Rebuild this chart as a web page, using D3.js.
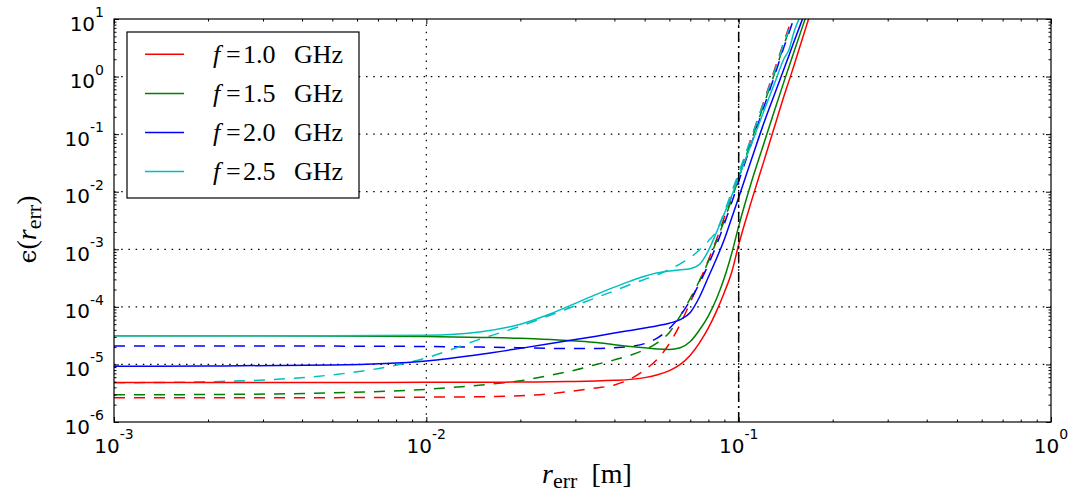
<!DOCTYPE html>
<html>
<head>
<meta charset="utf-8">
<script src="https://cdn.jsdelivr.net/npm/d3@7"></script>
<style>
body { margin: 0; background: #fff; }
</style>
</head>
<body>
<svg id="chart"></svg>
<script>
// sample positions r_err [m]
var rErr = [0.001, 0.002, 0.005, 0.01, 0.015, 0.02, 0.025, 0.03, 0.035, 0.04, 0.045, 0.05, 0.055, 0.06, 0.065,
            0.07, 0.075, 0.08, 0.085, 0.09, 0.095, 0.1, 0.11, 0.12, 0.13, 0.14, 0.145, 0.15, 0.16, 0.17];

var labels = ["1.0", "1.5", "2.0", "2.5"];
var colors = ["#ff0000", "#008000", "#0000ff", "#00bfbf"];

// solid curves
var solid10 = [4.85e-6, 4.85e-6, 4.85e-6, 4.9e-6, 4.9e-6, 4.95e-6, 5.0e-6, 5.05e-6, 5.15e-6, 5.3e-6, 5.5e-6, 5.9e-6, 6.6e-6, 7.8e-6, 1.0e-5,
               1.45e-5, 2.4e-5, 4.3e-5, 8.5e-5, 1.8e-4, 4.0e-4, 1.2e-3, 7e-3, 3.2e-2, 0.13, 0.48, 0.85, 1.5, 4.6, 13];
var solid15 = [3.15e-5, 3.15e-5, 3.12e-5, 3.05e-5, 2.95e-5, 2.85e-5, 2.7e-5, 2.55e-5, 2.4e-5, 2.2e-5, 2.05e-5, 1.95e-5, 1.85e-5, 1.82e-5, 1.95e-5,
               2.5e-5, 4.0e-5, 7.0e-5, 1.4e-4, 3.2e-4, 8.5e-4, 2.5e-3, 1.5e-2, 6.5e-2, 0.25, 0.85, 1.5, 2.6, 7.3, 19];
var solid20 = [9.3e-6, 9.4e-6, 9.8e-6, 1.15e-5, 1.5e-5, 1.9e-5, 2.3e-5, 2.7e-5, 3.1e-5, 3.5e-5, 3.9e-5, 4.3e-5, 4.7e-5, 5.2e-5, 6.0e-5,
               8.0e-5, 1.5e-4, 3.3e-4, 7.0e-4, 1.5e-3, 3.5e-3, 7.9e-3, 3.7e-2, 0.148, 0.48, 1.41, 2.35, 3.9, 9.9, 24];
var solid25 = [3.15e-5, 3.15e-5, 3.15e-5, 3.2e-5, 3.7e-5, 5.0e-5, 7.6e-5, 1.15e-4, 1.65e-4, 2.2e-4, 2.8e-4, 3.4e-4, 3.9e-4, 4.2e-4, 4.4e-4,
               4.6e-4, 5.5e-4, 9.5e-4, 2.0e-3, 4.2e-3, 8.5e-3, 1.8e-2, 6.9e-2, 0.24, 0.74, 2.1, 2.95, 5.7, 14, 33];

// dashed curves
var dashed10 = [2.63e-6, 2.63e-6, 2.65e-6, 2.7e-6, 2.75e-6, 2.85e-6, 3.1e-6, 3.5e-6, 3.9e-6, 4.4e-6, 5.6e-6, 8e-6, 1.25e-5, 2.3e-5, 5e-5,
                1.2e-4, 2.8e-4, 6.5e-4, 1.5e-3, 3.6e-3, 8.5e-3, 1.9e-2, 8.9e-2, 0.35, 1.28, 4.2, 7.3, null, null, null];
var dashed15 = [2.96e-6, 3.0e-6, 3.2e-6, 3.7e-6, 4.4e-6, 5.2e-6, 6.5e-6, 8.0e-6, 1.0e-5, 1.2e-5, 1.45e-5, 1.8e-5, 2.4e-5, 3.6e-5, 7e-5,
                1.4e-4, 2.9e-4, 6.2e-4, 1.4e-3, 3.2e-3, 7.5e-3, 1.7e-2, 8e-2, 0.31, 1.1, 3.7, 6.5, null, null, null];
var dashed20 = [2.1e-5, 2.1e-5, 2.08e-5, 2.05e-5, 2.0e-5, 1.95e-5, 1.9e-5, 1.9e-5, 1.9e-5, 1.95e-5, 2.05e-5, 2.3e-5, 2.9e-5, 4.2e-5, 7e-5,
                1.3e-4, 2.6e-4, 5.5e-4, 1.2e-3, 2.8e-3, 6.5e-3, 1.5e-2, 7e-2, 0.28, 1.0, 3.4, 5.8, 10, null, null];
var dashed25 = [4.8e-6, 5.0e-6, 6.6e-6, 1.3e-5, 2.8e-5, 4.6e-5, 7.2e-5, 1.05e-4, 1.45e-4, 1.9e-4, 2.45e-4, 3.0e-4, 3.6e-4, 4.5e-4, 5.6e-4,
                7.2e-4, 9.8e-4, 1.4e-3, 2.1e-3, 4.5e-3, 1.0e-2, 2.1e-2, 9e-2, 0.34, 1.2, 4.0, 6.7, null, null, null];

var xTickExps = [-3, -2, -1, 0];
var yTickExps = [-6, -5, -4, -3, -2, -1, 0, 1];
var markerR = 0.1;

var width = 1075, height = 495;
var margin = {top: 19, right: 24, bottom: 73, left: 114};

var svg = d3.select("#chart")
    .attr("width", width)
    .attr("height", height);

var x = d3.scaleLog().domain([1e-3, 1]).range([margin.left, width - margin.right]);
var y = d3.scaleLog().domain([1e-6, 10]).range([height - margin.bottom, margin.top]);

var solids = [solid10, solid15, solid20, solid25];
var dashes = [dashed10, dashed15, dashed20, dashed25];

svg.append("defs").append("clipPath").attr("id", "plot-clip")
    .append("rect")
    .attr("x", x.range()[0]).attr("y", y.range()[1])
    .attr("width", x.range()[1] - x.range()[0])
    .attr("height", y.range()[0] - y.range()[1]);

// grid
var grid = svg.append("g").attr("class", "grid")
    .attr("stroke", "#000").attr("stroke-width", 1.2).attr("stroke-dasharray", "1.5,5.7");
yTickExps.slice(1, -1).forEach(function (e) {
    grid.append("line")
        .attr("x1", x.range()[0]).attr("x2", x.range()[1])
        .attr("y1", y(Math.pow(10, e))).attr("y2", y(Math.pow(10, e)));
});
xTickExps.slice(1, -1).forEach(function (e) {
    grid.append("line")
        .attr("y1", y.range()[0]).attr("y2", y.range()[1])
        .attr("x1", x(Math.pow(10, e))).attr("x2", x(Math.pow(10, e)));
});

// curves
var line = d3.line()
    .defined(function (d) { return d[1] != null; })
    .x(function (d) { return x(d[0]); })
    .y(function (d) { return y(d[1]); })
    .curve(d3.curveMonotoneX);

var curves = svg.append("g").attr("clip-path", "url(#plot-clip)").attr("fill", "none");

dashes.forEach(function (vals, i) {
    curves.append("path")
        .attr("d", line(rErr.map(function (r, k) { return [r, vals[k]]; })))
        .attr("stroke", colors[i])
        .attr("stroke-width", 1.5)
        .attr("stroke-dasharray", "11,9");
});
solids.forEach(function (vals, i) {
    curves.append("path")
        .attr("d", line(rErr.map(function (r, k) { return [r, vals[k]]; })))
        .attr("stroke", colors[i])
        .attr("stroke-width", 1.5);
});

// r = 0.1 marker line
svg.append("line")
    .attr("x1", x(markerR)).attr("x2", x(markerR))
    .attr("y1", y.range()[0]).attr("y2", y.range()[1])
    .attr("stroke", "#000").attr("stroke-width", 1.5)
    .attr("stroke-dasharray", "10,4,2,4");

// ticks, inside on all four sides
var xMajor = xTickExps.map(function (e) { return Math.pow(10, e); });
var yMajor = yTickExps.map(function (e) { return Math.pow(10, e); });
var xMinor = [], yMinor = [];
xTickExps.slice(0, -1).forEach(function (e) {
    for (var m = 2; m < 10; m++) xMinor.push(m * Math.pow(10, e));
});
yTickExps.slice(0, -1).forEach(function (e) {
    for (var m = 2; m < 10; m++) yMinor.push(m * Math.pow(10, e));
});

function tickAxis(axis, vals, size) {
    return axis.tickValues(vals).tickSize(-size).tickFormat("");
}

var axes = [
    [d3.axisBottom, x, "translate(0," + y.range()[0] + ")", xMajor, xMinor],
    [d3.axisTop, x, "translate(0," + y.range()[1] + ")", xMajor, xMinor],
    [d3.axisLeft, y, "translate(" + x.range()[0] + ",0)", yMajor, yMinor],
    [d3.axisRight, y, "translate(" + x.range()[1] + ",0)", yMajor, yMinor]
];
axes.forEach(function (a) {
    var g1 = svg.append("g").attr("transform", a[2]).call(tickAxis(a[0](a[1]), a[3], 5));
    g1.select(".domain").remove();
    var g2 = svg.append("g").attr("transform", a[2]).call(tickAxis(a[0](a[1]), a[4], 2.5));
    g2.select(".domain").remove();
});
svg.selectAll(".tick line").attr("stroke", "#000").attr("stroke-width", 1);

// frame
svg.append("rect")
    .attr("x", x.range()[0]).attr("y", y.range()[1])
    .attr("width", x.range()[1] - x.range()[0])
    .attr("height", y.range()[0] - y.range()[1])
    .attr("fill", "none").attr("stroke", "#000").attr("stroke-width", 1.2);

// tick labels 10^n
var tickFont = "'DejaVu Sans', sans-serif";

function powLabel(sel, e) {
    sel.append("tspan").text("10");
    sel.append("tspan").attr("dy", -13.5).attr("font-size", 14).text(String(e));
}

xTickExps.forEach(function (e) {
    var t = svg.append("text")
        .attr("x", x(Math.pow(10, e)))
        .attr("y", y.range()[0] + 30.5)
        .attr("text-anchor", "middle")
        .attr("font-family", tickFont).attr("font-size", 20);
    powLabel(t, e);
});
yTickExps.forEach(function (e) {
    var t = svg.append("text")
        .attr("x", x.range()[0] - 10)
        .attr("y", y(Math.pow(10, e)) + 11.5)
        .attr("text-anchor", "end")
        .attr("font-family", tickFont).attr("font-size", 20);
    powLabel(t, e);
});

// axis titles
var mathFont = "'Liberation Serif', 'DejaVu Serif', serif";

var xTitle = svg.append("text")
    .attr("x", 587)
    .attr("y", 483)
    .attr("text-anchor", "middle")
    .attr("font-family", mathFont).attr("font-size", 28);
xTitle.append("tspan").attr("font-style", "italic").text("r");
xTitle.append("tspan").attr("dy", 5).attr("font-size", 22).text("err");
xTitle.append("tspan").attr("dy", -5).text("\u2002[m]");

var yTitle = svg.append("text")
    .attr("transform", "translate(36," + ((y.range()[0] + y.range()[1]) / 2 + 9) + ") rotate(-90)")
    .attr("text-anchor", "middle")
    .attr("font-family", mathFont).attr("font-size", 28);
yTitle.append("tspan").attr("font-family", "'DejaVu Serif', serif").attr("font-size", 25).text("\u03f5");
yTitle.append("tspan").text("(");
yTitle.append("tspan").attr("font-style", "italic").text("r");
yTitle.append("tspan").attr("dy", 5).attr("font-size", 22).text("err");
yTitle.append("tspan").attr("dy", -5).text(")");

// legend
var legend = svg.append("g");
legend.append("rect")
    .attr("x", 127).attr("y", 32)
    .attr("width", 232).attr("height", 166)
    .attr("fill", "#fff").attr("stroke", "#000").attr("stroke-width", 1.2);

labels.forEach(function (lab, i) {
    var ly = 54.3 + i * 39.1;
    legend.append("line")
        .attr("x1", 145).attr("x2", 184)
        .attr("y1", ly).attr("y2", ly)
        .attr("stroke", colors[i]).attr("stroke-width", 1.5);
    var t = legend.append("text")
        .attr("y", ly + 8.5)
        .attr("font-family", mathFont).attr("font-size", 26);
    t.append("tspan").attr("x", 213).attr("font-style", "italic").text("f");
    t.append("tspan").attr("x", 226).text("=");
    t.append("tspan").attr("x", 243).text(lab);
    t.append("tspan").attr("x", 294).text("GHz");
});
</script>
</body>
</html>
